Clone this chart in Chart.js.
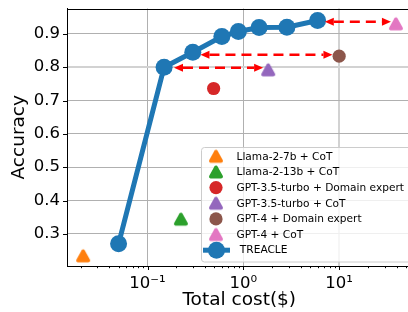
<!DOCTYPE html>
<html><head><meta charset="utf-8">
<script src="https://cdn.jsdelivr.net/npm/chart.js@4.4.1/dist/chart.umd.min.js"></script>
<style>
html,body{margin:0;padding:0;background:#fff;overflow:hidden;width:408px;height:312px}
#wrap{width:420px;height:312px}
</style></head><body><div id="wrap"><canvas id="c" width="420" height="312"></canvas></div>
<script>
// ---- data ----
const categories = ['Llama-2-7b + CoT', 'Llama-2-13b + CoT', 'GPT-3.5-turbo + Domain expert', 'GPT-3.5-turbo + CoT', 'GPT-4 + Domain expert', 'GPT-4 + CoT'];
const baselineCost = [0.0213, 0.223, 0.49, 1.82, 10.0, 39.1];
const baselineAcc = [0.234, 0.344, 0.736, 0.792, 0.833, 0.930];
const baselineMarker = ['triangle', 'triangle', 'circle', 'triangle', 'circle', 'triangle'];
const treacleLabel = 'TREACLE';
const treacleCost = [0.0499, 0.149, 0.297, 0.597, 0.888, 1.46, 2.85, 5.96];
const treacleAcc = [0.270, 0.800, 0.845, 0.892, 0.907, 0.919, 0.920, 0.940];
const arrowFrom = [0.189, 0.357, 7.09];
const arrowTo = [1.61, 8.51, 34.7];
const arrowAcc = [0.798, 0.837, 0.936];
const yTicks = [0.3, 0.4, 0.5, 0.6, 0.7, 0.8, 0.9];
const xMajorTicks = [0.1, 1, 10];
const xTickLabels = ['10\u207B\u00B9', '10\u2070', '10\u00B9'];
const xMinorTicks = [];
[0.01, 0.1, 1, 10].forEach(d => { for (let k = 2; k <= 9; k++) xMinorTicks.push(+(k * d).toPrecision(3)); });

// ---- style ----
const colors = ['#ff7f0e', '#2ca02c', '#d62728', '#9467bd', '#8c564b', '#e377c2'];
const blue = '#1f77b4';
const FONT = "'DejaVu Sans', sans-serif";

function triImg(color) {
  const c = document.createElement('canvas');
  c.width = 16; c.height = 16;
  const g = c.getContext('2d');
  g.beginPath();
  g.moveTo(8, 3.6); g.lineTo(3, 12.6); g.lineTo(13, 12.6); g.closePath();
  g.fillStyle = color; g.strokeStyle = color; g.lineWidth = 4; g.lineJoin = 'round';
  g.fill(); g.stroke();
  return c;
}
const triImgs = colors.map(triImg);

const datasets = [{
  label: treacleLabel,
  data: treacleCost.map((x, i) => ({x, y: treacleAcc[i]})),
  showLine: true, borderColor: blue, backgroundColor: blue, borderWidth: 5,
  pointRadius: 8.5, pointBorderWidth: 0, pointBackgroundColor: blue, order: 0, tension: 0
}];
categories.forEach((lab, i) => {
  datasets.push({
    label: lab,
    data: [{x: baselineCost[i], y: baselineAcc[i]}],
    showLine: false,
    pointStyle: baselineMarker[i] === 'triangle' ? triImgs[i] : 'circle',
    pointRadius: baselineMarker[i] === 'triangle' ? 7 : 6.6,
    pointBorderWidth: 0,
    backgroundColor: colors[i], borderColor: colors[i], order: 1
  });
});

const isMajorX = v => xMajorTicks.some(m => Math.abs(m - v) / m < 1e-6);

const decor = {
  id: 'decor',
  afterDatasetsDraw(chart) {
    const ctx = chart.ctx, xs = chart.scales.x, ys = chart.scales.y;
    ctx.save();
    ctx.strokeStyle = '#ff0000'; ctx.fillStyle = '#ff0000';
    ctx.lineWidth = 2.5;
    const hl = 9, hw = 4;
    arrowFrom.forEach((f, i) => {
      const x1 = xs.getPixelForValue(f), x2 = xs.getPixelForValue(arrowTo[i]);
      const y = ys.getPixelForValue(arrowAcc[i]);
      ctx.setLineDash([10, 6]);
      ctx.beginPath(); ctx.moveTo(x1 + hl, y); ctx.lineTo(x2 - hl, y); ctx.stroke();
      ctx.setLineDash([]);
      ctx.beginPath(); ctx.moveTo(x1, y); ctx.lineTo(x1 + hl, y - hw); ctx.lineTo(x1 + hl, y + hw); ctx.closePath(); ctx.fill();
      ctx.beginPath(); ctx.moveTo(x2, y); ctx.lineTo(x2 - hl, y - hw); ctx.lineTo(x2 - hl, y + hw); ctx.closePath(); ctx.fill();
    });
    ctx.restore();
  },
  afterDraw(chart) {
    const ctx = chart.ctx, xs = chart.scales.x, ys = chart.scales.y, a = chart.chartArea;
    ctx.save();
    // top spine
    ctx.strokeStyle = '#000'; ctx.lineWidth = 1;
    ctx.beginPath(); ctx.moveTo(a.left, Math.round(a.top) + 0.5); ctx.lineTo(a.right, Math.round(a.top) + 0.5); ctx.stroke();
    // tick marks
    ctx.beginPath();
    yTicks.forEach(v => {
      const y = Math.round(ys.getPixelForValue(v)) + 0.5;
      ctx.moveTo(a.left - 4, y); ctx.lineTo(a.left, y);
    });
    xMajorTicks.forEach(v => {
      const x = Math.round(xs.getPixelForValue(v)) + 0.5;
      ctx.moveTo(x, a.bottom); ctx.lineTo(x, a.bottom + 4);
    });
    xMinorTicks.forEach(v => {
      if (v < xs.min || v > xs.max) return;
      const x = Math.round(xs.getPixelForValue(v)) + 0.5;
      ctx.moveTo(x, a.bottom); ctx.lineTo(x, a.bottom + 2.2);
    });
    ctx.stroke();
    // axis titles
    ctx.fillStyle = '#000';
    ctx.font = '18.5px ' + FONT;
    ctx.textAlign = 'center'; ctx.textBaseline = 'alphabetic';
    ctx.fillText('Total cost($)', (a.left + a.right) / 2, 304.5);
    ctx.save();
    ctx.translate(24, (a.top + a.bottom) / 2);
    ctx.rotate(-Math.PI / 2);
    ctx.fillText('Accuracy', 0, 0);
    ctx.restore();
    // legend
    const lx = 201.5, ly = 147.5, lw = 230, lh = 114.5;
    ctx.fillStyle = 'rgba(255,255,255,0.8)';
    ctx.strokeStyle = '#cccccc'; ctx.lineWidth = 1;
    ctx.beginPath();
    ctx.roundRect(lx, ly, lw, lh, 3);
    ctx.fill(); ctx.stroke();
    const rowY0 = 156.3, rowH = 15.65, mx = 216, tx = 236.5;
    ctx.font = '10.6px ' + FONT;
    ctx.textAlign = 'left'; ctx.textBaseline = 'middle';
    categories.forEach((lab, i) => {
      const y = rowY0 + i * rowH;
      if (baselineMarker[i] === 'triangle') {
        ctx.drawImage(triImgs[i], mx - 8, y - 8);
      } else {
        ctx.fillStyle = colors[i];
        ctx.beginPath(); ctx.arc(mx, y, 6.6, 0, Math.PI * 2); ctx.fill();
      }
      ctx.fillStyle = '#000';
      ctx.fillText(lab, tx, y + 0.5);
    });
    const yT = rowY0 + categories.length * rowH;
    ctx.strokeStyle = blue; ctx.lineWidth = 5;
    ctx.beginPath(); ctx.moveTo(203, yT); ctx.lineTo(230, yT); ctx.stroke();
    ctx.fillStyle = blue;
    ctx.beginPath(); ctx.arc(216.5, yT, 8.5, 0, Math.PI * 2); ctx.fill();
    ctx.fillStyle = '#000';
    ctx.fillText(' ' + treacleLabel, tx, yT + 0.5);
    ctx.restore();
  }
};

new Chart(document.getElementById('c'), {
  type: 'scatter',
  data: {datasets},
  options: {
    responsive: false, devicePixelRatio: 1, animation: false,
    layout: {padding: {top: 7, right: 5, left: 0, bottom: 0}},
    plugins: {legend: {display: false}, tooltip: {enabled: false}},
    scales: {
      x: {
        type: 'logarithmic', min: 0.01445, max: 56.9,
        afterBuildTicks: s => { s.ticks = xMajorTicks.concat(xMinorTicks).filter(v => v >= s.min && v <= s.max).sort((p, q) => p - q).map(v => ({value: v})); },
        afterFit: s => { s.height = 46; s.paddingLeft = 0; s.paddingRight = 0; },
        ticks: {
          autoSkip: false, maxRotation: 0, minRotation: 0, padding: 8,
          color: '#000', font: {family: FONT, size: 16.5},
          callback: v => { const i = xMajorTicks.findIndex(m => Math.abs(m - v) / m < 1e-6); return i >= 0 ? xTickLabels[i] : ''; }
        },
        grid: {
          drawTicks: false,
          color: c => (c.tick && isMajorX(c.tick.value)) ? (Math.abs(c.tick.value - 10) < 1e-6 ? '#d2d2d2' : '#b0b0b0') : 'rgba(0,0,0,0)',
          lineWidth: c => (c.tick && Math.abs(c.tick.value - 10) < 1e-6) ? 2 : 1
        },
        border: {display: true, color: '#000', width: 1}
      },
      y: {
        min: 0.2035, max: 0.976,
        afterBuildTicks: s => { s.ticks = yTicks.map(v => ({value: v})); },
        afterFit: s => { s.width = 67; s.paddingTop = 0; s.paddingBottom = 0; },
        ticks: {
          padding: 7, color: '#000', font: {family: FONT, size: 16.5},
          callback: v => v.toFixed(1)
        },
        grid: {
          drawTicks: false,
          color: c => (c.tick && Math.abs(c.tick.value - 0.8) < 1e-6) ? '#d2d2d2' : '#b0b0b0',
          lineWidth: c => (c.tick && Math.abs(c.tick.value - 0.8) < 1e-6) ? 2 : 1
        },
        border: {display: true, color: '#000', width: 1}
      }
    }
  },
  plugins: [decor]
});
</script></body></html>
